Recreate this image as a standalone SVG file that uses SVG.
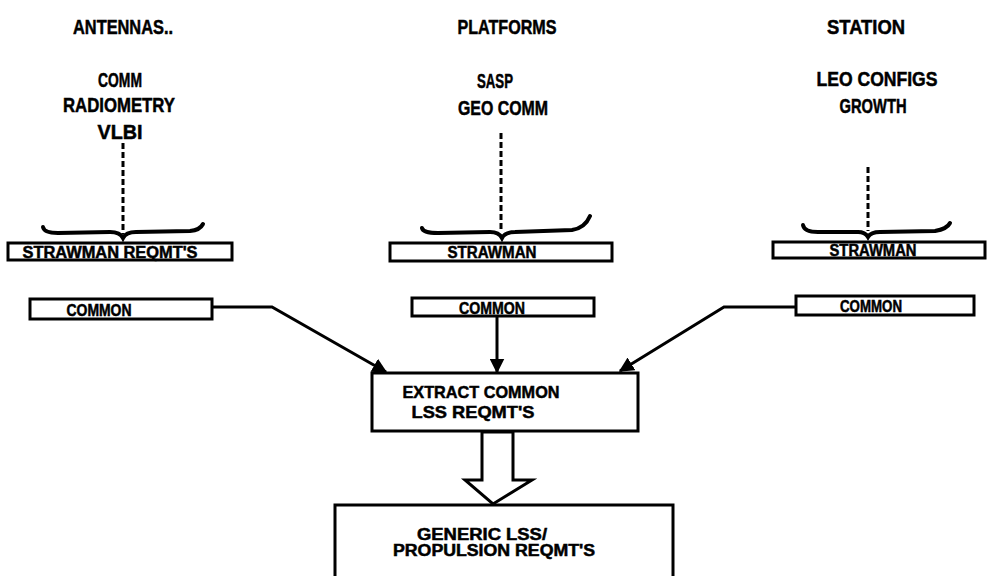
<svg xmlns="http://www.w3.org/2000/svg" width="988" height="576" viewBox="0 0 988 576">
<style>
text{font-family:"Liberation Sans",Arial,sans-serif;font-weight:bold;fill:#000;stroke:#000;stroke-width:0.5;text-anchor:middle}
.h{font-size:20px}
.b{font-size:16px}
.box{fill:#fff;stroke:#000;stroke-width:3}
.dash{stroke:#000;stroke-width:3;stroke-dasharray:6 3;fill:none}
.brace{stroke:#000;stroke-width:4;fill:none;stroke-linecap:round}
.conn{stroke:#000;stroke-width:3;fill:none}
</style>
<defs>
<marker id="ah" viewBox="0 0 10 10" refX="9" refY="5" markerWidth="5" markerHeight="5" orient="auto" markerUnits="strokeWidth">
<path d="M0,0 L10,5 L0,10 Z" fill="#000"/>
</marker>
</defs>
<g id="antennas">
<text class="h" x="123" y="34" textLength="100" lengthAdjust="spacingAndGlyphs">ANTENNAS..</text>
<text class="h" x="120" y="87" textLength="44" lengthAdjust="spacingAndGlyphs">COMM</text>
<text class="h" x="119" y="112" textLength="112" lengthAdjust="spacingAndGlyphs">RADIOMETRY</text>
<text class="h" x="120" y="139" textLength="45" lengthAdjust="spacingAndGlyphs">VLBI</text>
<line class="dash" x1="123" y1="143" x2="123" y2="234"/>
<path class="brace" d="M43,227 Q44,233 58,233 L110,232 Q120,232 123,238 Q126,232 136,232 L190,231 Q200,230 203,224"/>
<rect class="box" x="8" y="243" width="224" height="17"/>
<text class="b" x="110" y="258" textLength="175" lengthAdjust="spacingAndGlyphs">STRAWMAN REQMT'S</text>
</g>
<g id="platforms">
<text class="h" x="507" y="34" textLength="99" lengthAdjust="spacingAndGlyphs">PLATFORMS</text>
<text class="h" x="495" y="88" textLength="36" lengthAdjust="spacingAndGlyphs">SASP</text>
<text class="h" x="503" y="115" textLength="90" lengthAdjust="spacingAndGlyphs">GEO COMM</text>
<line class="dash" x1="501" y1="133" x2="501" y2="231"/>
<path class="brace" d="M422,228 Q423,233 438,233 L490,232 Q499,232 502,238 Q505,232 515,232 L572,230 Q585,228 590,216"/>
<rect class="box" x="390" y="243" width="222" height="18"/>
<text class="b" x="492" y="258" textLength="89" lengthAdjust="spacingAndGlyphs">STRAWMAN</text>
</g>
<g id="station">
<text class="h" x="866" y="34" textLength="78" lengthAdjust="spacingAndGlyphs">STATION</text>
<text class="h" x="877" y="86" textLength="121" lengthAdjust="spacingAndGlyphs">LEO CONFIGS</text>
<text class="h" x="873" y="113" textLength="67" lengthAdjust="spacingAndGlyphs">GROWTH</text>
<line class="dash" x1="868" y1="167" x2="868" y2="231"/>
<path class="brace" d="M803,225 Q804,232 818,232 L858,232 Q865,232 868,237 Q871,232 880,232 L935,231 Q947,229 950,223"/>
<rect class="box" x="773" y="242" width="212" height="16"/>
<text class="b" x="873" y="256" textLength="87" lengthAdjust="spacingAndGlyphs">STRAWMAN</text>
</g>
<g id="common-left">
<rect class="box" x="30" y="299" width="182" height="20"/>
<text class="b" x="99" y="316" textLength="65" lengthAdjust="spacingAndGlyphs">COMMON</text>
</g>
<g id="common-mid">
<rect class="box" x="412" y="298" width="182" height="18"/>
<text class="b" x="492" y="314" textLength="66" lengthAdjust="spacingAndGlyphs">COMMON</text>
</g>
<g id="common-right">
<rect class="box" x="796" y="296" width="178" height="19"/>
<text class="b" x="871" y="312" textLength="62" lengthAdjust="spacingAndGlyphs">COMMON</text>
</g>
<g id="extract">
<rect class="box" x="372" y="373" width="266" height="58"/>
<text x="481" y="398" style="font-size:17px" textLength="157" lengthAdjust="spacingAndGlyphs">EXTRACT COMMON</text>
<text x="473" y="418" style="font-size:17px" textLength="123" lengthAdjust="spacingAndGlyphs">LSS REQMT'S</text>
</g>
<g id="generic">
<rect class="box" x="335" y="505" width="338" height="80"/>
<text x="482" y="540" style="font-size:16px" textLength="130" lengthAdjust="spacingAndGlyphs">GENERIC LSS/</text>
<text x="494" y="556" style="font-size:16px" textLength="202" lengthAdjust="spacingAndGlyphs">PROPULSION REQMT'S</text>
</g>
<g id="connectors">
<polyline class="conn" points="212,307 272,307 386,372" marker-end="url(#ah)"/>
<line class="conn" x1="497" y1="316" x2="497" y2="372" marker-end="url(#ah)"/>
<polyline class="conn" points="796,307 724,307 620,371" marker-end="url(#ah)"/>
<polygon points="482,432 482,480 465,480 493,504 532,480 513,480 513,432" fill="#fff" stroke="#000" stroke-width="3" stroke-linejoin="miter"/>
</g>
</svg>
